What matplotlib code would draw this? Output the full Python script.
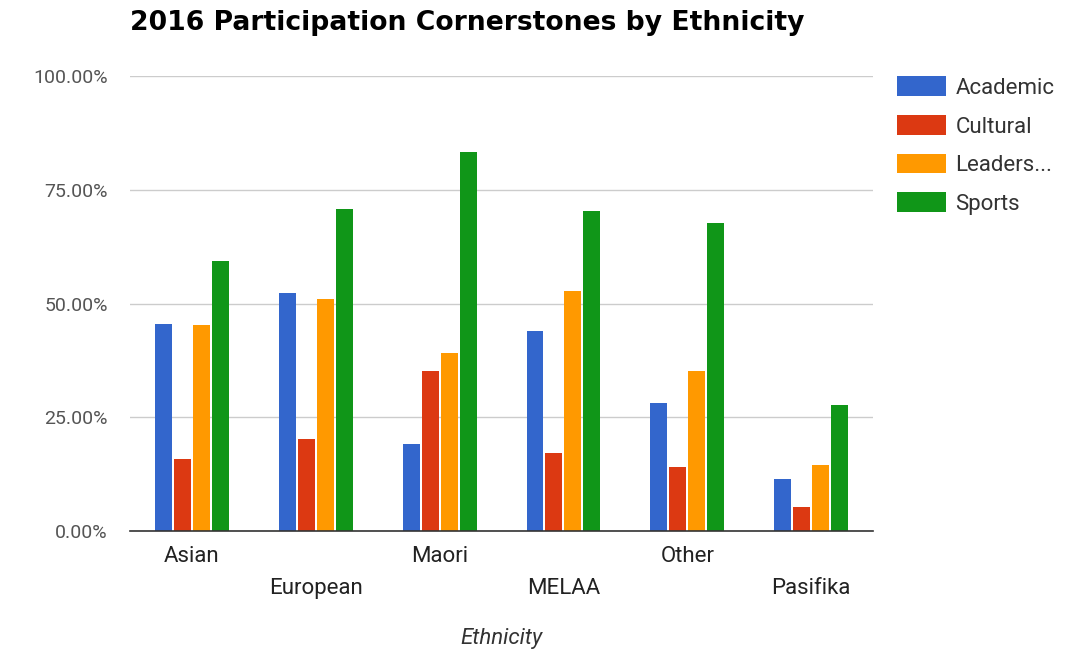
import numpy as np
import matplotlib
matplotlib.use('Agg')
import matplotlib.pyplot as plt
from matplotlib.ticker import FuncFormatter

# values (fraction of students)
ethnicities = ['Asian', 'European', 'Maori', 'MELAA', 'Other', 'Pasifika']
academic = [0.456, 0.522, 0.192, 0.439, 0.281, 0.114]
cultural = [0.158, 0.202, 0.351, 0.171, 0.140, 0.052]
leadership = [0.452, 0.509, 0.391, 0.527, 0.351, 0.146]
sports = [0.593, 0.707, 0.834, 0.703, 0.677, 0.276]

series_names = ['Academic', 'Cultural', 'Leaders...', 'Sports']
colors = ['#3366cc', '#dc3912', '#ff9900', '#109618']

plt.rcParams['font.family'] = ['Roboto', 'DejaVu Sans']

fig = plt.figure(figsize=(10.73, 6.52), dpi=100)
ax = fig.add_axes([0.1212, 0.1856, 0.6924, 0.6978])

x = np.arange(len(ethnicities))
slot = 0.153
bar_w = 0.137
for i, (vals, name, c) in enumerate(zip([academic, cultural, leadership, sports],
                                        series_names, colors)):
    ax.bar(x + (i - 1.5) * slot, vals, width=bar_w, color=c, label=name, zorder=3)

ax.set_xlim(-0.5, len(ethnicities) - 0.5)
ax.set_ylim(0, 1)
ax.set_yticks([0, 0.25, 0.5, 0.75, 1.0])
ax.yaxis.set_major_formatter(FuncFormatter(lambda v, p: '%.2f%%' % (v * 100)))
ax.grid(axis='y', color='#cccccc', linewidth=1, zorder=0)
for side in ['top', 'right', 'left']:
    ax.spines[side].set_visible(False)
ax.spines['bottom'].set_color('#333333')
ax.spines['bottom'].set_linewidth(1.2)
ax.spines['bottom'].set_zorder(4)

ax.tick_params(axis='y', length=0, pad=16, labelsize=14, labelcolor='#555555')
ax.set_xticks(x)
ax.set_xticklabels(ethnicities)
ax.tick_params(axis='x', length=0, labelsize=16, labelcolor='#222222')
for i, tick in enumerate(ax.xaxis.get_major_ticks()):
    tick.set_pad(11 if i % 2 == 0 else 34)

ax.set_xlabel('Ethnicity', fontsize=16, style='italic', color='#333333', labelpad=21)

fig.text(0.121, 0.984, '2016 Participation Cornerstones by Ethnicity',
         fontsize=19.2, fontweight='bold', va='top', ha='left',
         family=['DejaVu Sans'])

ax.legend(loc='upper left', bbox_to_anchor=(1.005, 1.043), frameon=False,
          fontsize=16, handlelength=2.2, handleheight=1.0, labelspacing=0.72,
          handletextpad=0.45, labelcolor='#333333')

fig.savefig('out.png', dpi=100)
